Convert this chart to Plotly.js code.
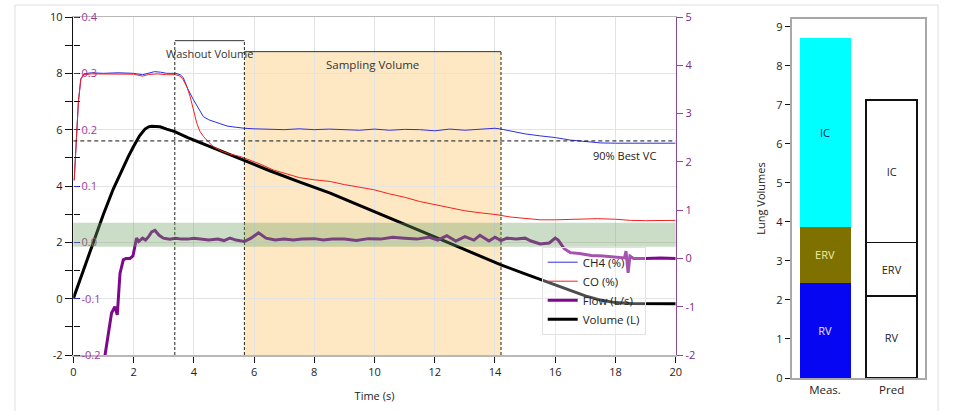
<!DOCTYPE html>
<html>
<head>
<meta charset="utf-8">
<script src="https://cdn.plot.ly/plotly-3.0.1.min.js"></script>
<style>html,body{margin:0;padding:0;background:#fff;}#chart{width:964px;height:411px;}</style>
</head>
<body>
<div id="chart"></div>
<script>
// ---------- data ----------
// CH4 and CO concentrations (%), on the inner 0.0-0.4 scale
const ch4T = [0.03,0.1,0.17,0.25,0.35,0.6,1.0,1.5,2.0,2.3,2.5,2.7,2.9,3.1,3.4,3.55,3.65,3.8,3.99,4.15,4.32,4.5,4.65,4.9,5.1,5.3,5.5,5.68,6.0,6.5,7.0,7.5,8.0,8.5,9.0,9.5,10.0,10.5,11.0,11.5,12.0,12.5,13.0,13.5,14.0,14.2,14.5,15.0,15.5,16.0,16.5,17.0,17.5,18.0,18.5,19.0,19.5,20.0];
const ch4V = [0.11,0.18,0.25,0.29,0.299,0.301,0.3,0.301,0.3,0.2975,0.3,0.303,0.302,0.3,0.3,0.2975,0.2925,0.2725,0.253,0.2375,0.223,0.2175,0.2145,0.21,0.2065,0.205,0.203,0.2025,0.2015,0.201,0.2,0.2015,0.2,0.201,0.2,0.199,0.201,0.199,0.2005,0.2,0.198,0.201,0.199,0.201,0.2025,0.201,0.1975,0.1925,0.189,0.186,0.1815,0.1785,0.1765,0.176,0.176,0.1755,0.176,0.176];

const coT = [0.03,0.1,0.17,0.25,0.35,0.6,1.0,1.5,2.0,2.3,2.5,2.8,3.1,3.4,3.55,3.65,3.78,3.88,4.0,4.1,4.2,4.32,4.5,4.65,4.9,5.2,5.54,5.8,6.2,6.64,7.0,7.5,8.0,8.53,9.0,9.5,9.97,10.5,11.0,11.5,12.02,12.5,13.0,13.5,14.07,14.5,15.0,15.5,16.0,16.5,17.0,17.4,18.0,18.5,19.0,19.5,20.0];
const coV = [0.11,0.175,0.25,0.29,0.2975,0.299,0.299,0.299,0.2985,0.295,0.298,0.299,0.2975,0.2975,0.295,0.2885,0.275,0.2585,0.235,0.2115,0.1975,0.188,0.1775,0.17,0.1625,0.1565,0.1525,0.1475,0.139,0.1285,0.1225,0.115,0.111,0.108,0.1025,0.0975,0.0935,0.086,0.08,0.0725,0.0665,0.061,0.056,0.0525,0.049,0.045,0.042,0.04,0.04,0.041,0.0415,0.042,0.041,0.039,0.0385,0.039,0.039];

// Flow (L/s), right axis
const flowT = [0.98,1.05,1.15,1.27,1.38,1.46,1.55,1.66,1.75,1.88,1.98,2.05,2.1,2.17,2.3,2.4,2.5,2.6,2.71,2.85,2.99,3.2,3.4,3.6,3.8,4.0,4.2,4.5,4.8,5.0,5.2,5.4,5.68,5.9,6.15,6.4,6.7,7.0,7.3,7.6,8.0,8.3,8.6,9.0,9.4,9.8,10.2,10.6,11.0,11.4,11.8,12.1,12.4,12.7,13.0,13.3,13.5,13.8,14.0,14.2,14.4,14.7,15.0,15.2,15.5,15.8,16.0,16.1,16.3,16.5,16.8,17.2,17.6,18.0,18.3,18.35,18.42,18.48,18.6,19.0,19.5,20.0];
const flowV = [-2.3,-2.0,-1.6,-1.13,-1.0,-1.17,-0.31,-0.03,0.0,0.0,0.05,0.25,0.42,0.35,0.42,0.38,0.45,0.55,0.58,0.48,0.42,0.40,0.42,0.40,0.40,0.42,0.40,0.38,0.40,0.37,0.42,0.38,0.35,0.42,0.53,0.42,0.38,0.40,0.38,0.40,0.41,0.38,0.40,0.40,0.37,0.41,0.40,0.44,0.42,0.40,0.44,0.38,0.47,0.36,0.45,0.38,0.48,0.36,0.44,0.37,0.42,0.40,0.42,0.36,0.30,0.32,0.42,0.38,0.20,0.12,0.10,0.06,0.05,0.03,0.01,0.15,-0.30,0.05,0.0,0.0,0.01,0.0];

// Volume (L), left axis
const volT = [0,0.33,0.66,1.0,1.33,1.6,1.83,2.0,2.2,2.38,2.5,2.6,2.88,3.1,3.37,3.8,4.3,4.87,5.54,5.68,6.5,7.5,8.53,9.3,10.0,11.0,12.0,13.0,14.2,15.0,16.0,16.5,17.0,17.5,18.0,18.5,19.0,20.0];
const volV = [0,1.0,2.0,3.0,3.9,4.55,5.05,5.4,5.78,6.02,6.1,6.12,6.1,6.02,5.93,5.72,5.5,5.26,4.98,4.9,4.55,4.15,3.75,3.4,3.08,2.64,2.19,1.74,1.2,0.88,0.5,0.3,0.1,-0.05,-0.14,-0.17,-0.18,-0.18];

const lungCats = ['Meas.','Pred'];
const rvVals  = [2.43, 2.10];
const ervVals = [1.45, 1.37];
const icVals  = [4.84, 3.65];

const leftTickVals = [-2,0,2,4,6,8,10];
const leftTickText = ['-2','0','2','4','6','8','10'];
const concTickVals = [-0.2,-0.1,0.0,0.1,0.2,0.3,0.4];
const concTickText = ['-0.2','-0.1','0.0','0.1','0.2','0.3','0.4'];
const flowTickVals = [-2,-1,0,1,2,3,4,5];
const flowTickText = ['-2','-1','0','1','2','3','4','5'];
const xTickVals = [0,2,4,6,8,10,12,14,16,18,20];

// ---------- styling ----------
const FONT = 'Open Sans, Noto Sans, sans-serif';
const PURPLE = '#7d0a8c';
const AXPURPLE = '#8c4a96';

const traces = [
  {x: ch4T, y: ch4V, name: 'CH4 (%)', type: 'scatter', mode: 'lines', line: {color: '#2d2ee0', width: 1}, xaxis: 'x', yaxis: 'y3'},
  {x: coT, y: coV, name: 'CO (%)', type: 'scatter', mode: 'lines', line: {color: '#f52020', width: 1}, xaxis: 'x', yaxis: 'y3'},
  {x: flowT, y: flowV, name: 'Flow (L/s)', type: 'scatter', mode: 'lines', line: {color: PURPLE, width: 3}, xaxis: 'x', yaxis: 'y2'},
  {x: volT, y: volV, name: 'Volume (L)', type: 'scatter', mode: 'lines', line: {color: '#000000', width: 3}, xaxis: 'x', yaxis: 'y'},
  {x: lungCats, y: rvVals, type: 'bar', name: 'RV', showlegend: false, xaxis: 'x2', yaxis: 'y4',
   text: ['RV','RV'], textposition: 'inside', insidetextanchor: 'middle', textangle: 0,
   textfont: {family: FONT, size: 11, color: ['#e6e6ff','#222222']},
   marker: {color: ['#0606f2','#ffffff'], line: {color: ['#0606f2','#111111'], width: [0,1.5]}}},
  {x: lungCats, y: ervVals, type: 'bar', name: 'ERV', showlegend: false, xaxis: 'x2', yaxis: 'y4',
   text: ['ERV','ERV'], textposition: 'inside', insidetextanchor: 'middle', textangle: 0,
   textfont: {family: FONT, size: 11, color: ['#f2eda0','#222222']},
   marker: {color: ['#7f7100','#ffffff'], line: {color: ['#7f7100','#111111'], width: [0,1.5]}}},
  {x: lungCats, y: icVals, type: 'bar', name: 'IC', showlegend: false, xaxis: 'x2', yaxis: 'y4',
   text: ['IC','IC'], textposition: 'inside', insidetextanchor: 'middle', textangle: 0,
   textfont: {family: FONT, size: 11, color: ['#1b2a5e','#222222']},
   marker: {color: ['#00ffff','#ffffff'], line: {color: ['#00ffff','#111111'], width: [0,1.5]}}}
];

const W = 964, H = 411;
const xDom = [73.3/W, 675.7/W];
const yDom = [1-355/H, 1-17/H];

const washoutStart = 3.37, washoutEnd = 5.68, washoutTop = 9.16;
const samplingEnd = 14.2, samplingTop = 8.77;
const bestVC = 5.6;
const bandLo = 0.24, bandHi = 0.74;

const shapes = [
  {type: 'rect', xref: 'paper', yref: 'paper', x0: 15/W, x1: 938/W, y0: -0.2, y1: 1-5/H, line: {color: '#dedede', width: 1}, layer: 'below'},
  {type: 'rect', xref: 'x', yref: 'y', x0: washoutEnd, x1: samplingEnd, y0: -2, y1: samplingTop, fillcolor: '#fde8c3', line: {width: 0}, layer: 'below'},
  {type: 'line', xref: 'x', yref: 'y', x0: washoutEnd, x1: samplingEnd, y0: samplingTop, y1: samplingTop, line: {color: '#333', width: 1}},
  {type: 'line', xref: 'x', yref: 'y', x0: samplingEnd, x1: samplingEnd, y0: -2, y1: samplingTop, line: {color: '#222', width: 1, dash: '3px,2px'}},
  {type: 'line', xref: 'x', yref: 'y', x0: washoutStart, x1: washoutStart, y0: -2, y1: washoutTop, line: {color: '#222', width: 1, dash: '3px,2px'}},
  {type: 'line', xref: 'x', yref: 'y', x0: washoutEnd, x1: washoutEnd, y0: -2, y1: washoutTop, line: {color: '#222', width: 1, dash: '3px,2px'}},
  {type: 'line', xref: 'x', yref: 'y', x0: washoutStart, x1: washoutEnd, y0: washoutTop, y1: washoutTop, line: {color: '#333', width: 1}},
  {type: 'line', xref: 'x', yref: 'y', x0: 0, x1: 20, y0: bestVC, y1: bestVC, line: {color: '#111', width: 1, dash: '4px,3px'}},
  {type: 'rect', xref: 'x domain', yref: 'y2', x0: 0, x1: 1, y0: bandLo, y1: bandHi, fillcolor: 'rgba(110,160,100,0.36)', line: {width: 0}, layer: 'above'}
];

const annotations = [
  {xref: 'x', yref: 'y', x: 4.52, y: 8.72, text: 'Washout Volume', showarrow: false, font: {family: FONT, size: 11, color: '#333'}},
  {xref: 'x', yref: 'y', x: 9.93, y: 8.32, text: 'Sampling Volume', showarrow: false, font: {family: FONT, size: 11.5, color: '#333'}},
  {xref: 'x', yref: 'y', x: 19.4, y: 5.08, text: '90% Best VC', showarrow: false, xanchor: 'right', font: {family: FONT, size: 11, color: '#222'}}
];

const layout = {
  width: W, height: H,
  margin: {l: 0, r: 0, t: 0, b: 0},
  paper_bgcolor: '#ffffff', plot_bgcolor: 'rgba(0,0,0,0)',
  font: {family: FONT, size: 11, color: '#222'},
  showlegend: true,
  legend: {x: 541.7/W, y: 1-246.7/H, xanchor: 'left', yanchor: 'top', traceorder: 'normal', bgcolor: 'rgba(255,255,255,0.3)', bordercolor: '#e2e2e2', borderwidth: 1, font: {family: FONT, size: 11.5, color: '#222'}, tracegroupgap: 0},
  bargap: 0.235,
  barmode: 'stack',
  xaxis: {domain: xDom, anchor: 'y', range: [0, 20], tickvals: xTickVals, ticks: 'outside', ticklen: 6, tickcolor: '#111',
    showline: true, linecolor: '#b8b8b8', linewidth: 1.5, mirror: true, showgrid: true, gridcolor: '#e3e3e3', zeroline: false,
    tickfont: {family: FONT, size: 11, color: '#222'},
    title: {text: 'Time (s)', font: {family: FONT, size: 11, color: '#222'}, standoff: 14}},
  yaxis: {domain: yDom, anchor: 'x', range: [-2, 10], tickvals: leftTickVals, ticktext: leftTickText, ticks: 'outside', ticklen: 7, tickcolor: '#111',
    minor: {dtick: 1, tick0: 0, ticks: 'outside', ticklen: 7, tickcolor: '#111', showgrid: false},
    showline: true, linecolor: '#111', linewidth: 1.5, showgrid: true, gridcolor: '#e3e3e3', zeroline: false,
    tickfont: {family: FONT, size: 11, color: '#222'}},
  yaxis3: {overlaying: 'y', side: 'right', anchor: 'free', position: xDom[0], range: [-0.2, 0.4], tickvals: concTickVals, ticktext: concTickText,
    ticks: 'outside', ticklen: 5, tickcolor: '#3030c8',
    minor: {dtick: 0.05, tick0: 0, ticks: 'outside', ticklen: 6, tickcolor: '#111', showgrid: false},
    showline: false, showgrid: false, zeroline: false,
    tickfont: {family: FONT, size: 11, color: '#9a3a9a'}},
  yaxis2: {overlaying: 'y', side: 'right', anchor: 'x', range: [-2, 5], tickvals: flowTickVals, ticktext: flowTickText, ticks: 'outside', ticklen: 6, tickcolor: AXPURPLE,
    showline: true, linecolor: AXPURPLE, linewidth: 1.5, showgrid: false, zeroline: false,
    tickfont: {family: FONT, size: 11, color: '#7a2a88'}},
  xaxis2: {domain: [791.7/W, 925/W], anchor: 'y4', type: 'category', showline: true, mirror: true, linecolor: '#a8a8a8', linewidth: 2,
    ticks: '', showgrid: false, zeroline: false, tickfont: {family: FONT, size: 11.5, color: '#222'}},
  yaxis4: {domain: [1-378/H, 1-19/H], anchor: 'x2', range: [0, 9.2], dtick: 1, tick0: 0, ticks: 'outside', ticklen: 5, tickcolor: '#111',
    showline: true, mirror: true, linecolor: '#a8a8a8', linewidth: 2, showgrid: false, zeroline: false,
    tickfont: {family: FONT, size: 11, color: '#222'},
    title: {text: 'Lung Volumes', font: {family: FONT, size: 11, color: '#222'}, standoff: 8}},
  shapes: shapes,
  annotations: annotations
};

Plotly.newPlot('chart', traces, layout, {displayModeBar: false, staticPlot: true});
</script>
</body>
</html>
